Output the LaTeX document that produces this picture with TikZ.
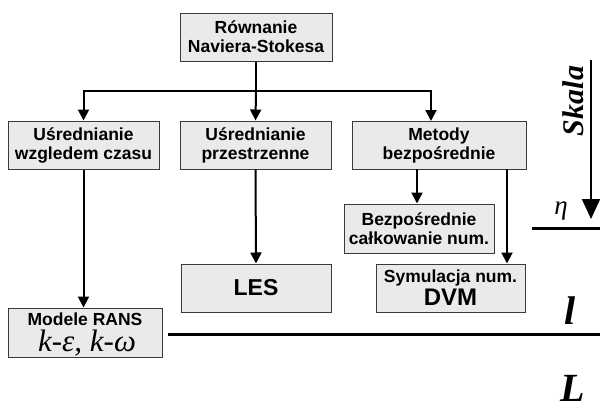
\documentclass[tikz,border=0pt]{standalone}
\usepackage{fontspec}
\setmainfont{Liberation Serif}
\newfontfamily\arialf{Liberation Sans}
\usetikzlibrary{arrows.meta}
\definecolor{boxfill}{HTML}{EAEAEA}
\definecolor{boxline}{HTML}{3A3A3A}
\tikzset{
  boxfont/.style={font=\arialf\bfseries\fontsize{17.5}{19}\selectfont},
  box/.style={draw=boxline, line width=1pt, fill=boxfill, align=center, inner sep=0pt, boxfont},
  txt/.style={inner sep=0pt, anchor=base},
  conn/.style={line width=2pt, -{Triangle[width=11pt,length=11pt]}},
  plain/.style={line width=2pt},
  scaleline/.style={line width=3pt},
}
\begin{document}
\begin{tikzpicture}[x=1pt,y=-1pt]
\useasboundingbox (0,0) rectangle (600,410);
\node[box, minimum width=152pt, minimum height=48pt] (top) at (256,37) {Równanie\\Naviera-Stokesa};
\node[box, minimum width=151pt, minimum height=48pt] (b1) at (83.5,145) {Uśrednianie\\wzgledem czasu};
\node[box, minimum width=151pt, minimum height=48pt] (b2) at (255.5,145) {Uśrednianie\\przestrzenne};
\node[box, minimum width=174pt, minimum height=48pt] (b3) at (439,145) {Metody\\bezpośrednie};
\node[box, minimum width=150pt, minimum height=49pt] (bc) at (419,228.5) {Bezpośrednie\\całkowanie num.};
\node[box, minimum width=149pt, minimum height=48pt] (sy) at (450.5,288) {};
\node[txt, boxfont] (sy1) at (450.5,282) {Symulacja num.};
\node[txt, font=\arialf\bfseries\fontsize{24}{24}\selectfont] (sy2) at (450.5,305) {DVM};
\node[box, minimum width=150pt, minimum height=48pt, font=\arialf\bfseries\fontsize{23}{23}\selectfont] (les) at (256,288) {LES};
\node[box, minimum width=154pt, minimum height=49pt] (rans) at (85,332.5) {};
\node[txt, boxfont] (rans1) at (85,325) {Modele RANS};
\node[txt, font=\itshape\fontsize{31}{31}\selectfont] (rans2) at (87,351) {k-ε, k-ω};

\coordinate (j) at (256,91);
\draw[plain] (top.south) -- (j);
\draw[conn] (j) -| (b1.north);
\draw[conn] (j) -- (b2.north);
\coordinate (b3in) at (431,121);
\draw[conn] (j) -| (b3in);
\draw[conn] (b1.south) -- (b1.south |- rans.north);
\draw[conn] (b2.south) -- (les.north);
\coordinate (b3a) at (417,169);
\coordinate (b3b) at (507,169);
\draw[conn] (b3a) -- (b3a |- bc.north);
\draw[conn] (b3b) -- (b3b |- sy.north);

% scale
\coordinate (axtop) at (591,60);
\coordinate (axbot) at (591,219);
\draw[line width=2pt, -{Triangle[width=18pt,length=20pt]}] (axtop) -- (axbot);
\coordinate (eta1) at (532,228);
\coordinate (eta2) at (600,228);
\draw[scaleline] (eta1) -- (eta2);
\coordinate (l1) at (168,334);
\coordinate (l2) at (600,334);
\draw[scaleline] (l1) -- (l2);
\node[rotate=90, font=\bfseries\itshape\fontsize{30}{30}\selectfont] (skala) at (573,101) {Skala};
\node[txt, font=\itshape\fontsize{27}{27}\selectfont] (eta) at (561,214) {η};
\node[font=\bfseries\itshape\fontsize{40}{40}\selectfont] (lsmall) at (570,311) {l};
\node[font=\bfseries\itshape\fontsize{40}{40}\selectfont] (lbig) at (573,388) {L};
\end{tikzpicture}
\end{document}
